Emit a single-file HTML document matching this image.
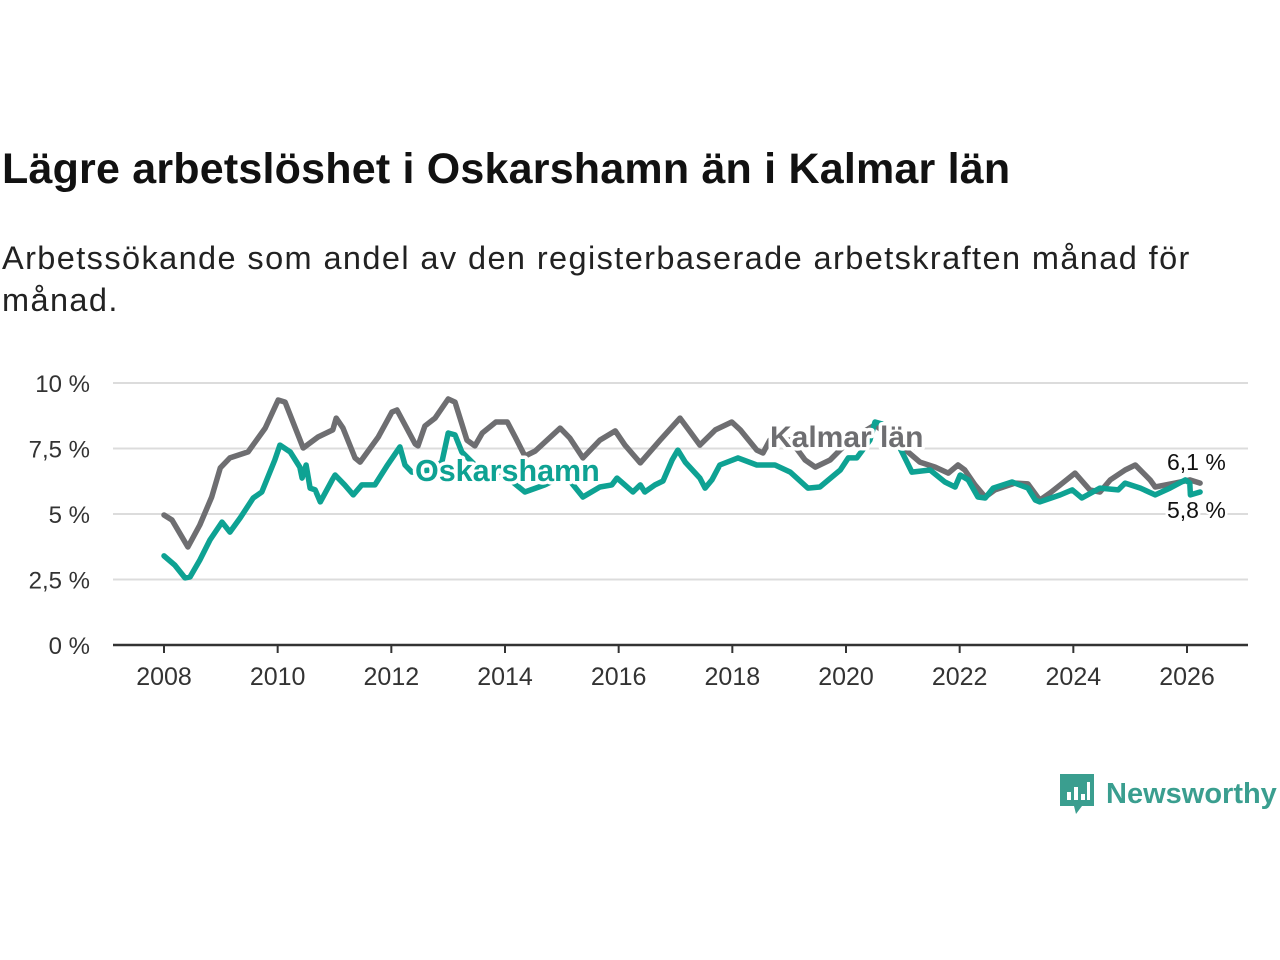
<!DOCTYPE html>
<html><head><meta charset="utf-8">
<style>
body{margin:0;background:#fff;width:1280px;height:960px;overflow:hidden;font-family:"Liberation Sans","DejaVu Sans",sans-serif;color:#111}
#title{position:absolute;left:2px;top:145px;font-size:43px;font-weight:bold;margin:0;letter-spacing:0.2px;white-space:nowrap}
#sub{position:absolute;left:2px;top:237px;font-size:32.5px;line-height:42px;letter-spacing:1.4px;width:1200px;color:#222}
svg{position:absolute;left:0;top:0}
</style></head><body>
<h1 id="title">Lägre arbetslöshet i Oskarshamn än i Kalmar län</h1>
<div id="sub">Arbetssökande som andel av den registerbaserade arbetskraften månad för månad.</div>
<svg id="chart" width="1280" height="960"></svg>
<div style="position:absolute;left:1060px;top:772px;display:flex;align-items:center">
<svg width="36" height="44" style="position:static"><path d="M0 2 H34 V34 H22 L16 42 L14 34 H0 Z" fill="#3a9e8f"/><rect x="7" y="20" width="4" height="8" fill="#fff"/><rect x="14" y="15" width="4" height="13" fill="#fff"/><rect x="21" y="22" width="4" height="6" fill="#fff"/><rect x="27" y="10" width="3" height="18" fill="#fff"/></svg>
<span style="color:#3a9e8f;font-size:29px;font-weight:bold;margin-left:10px">Newsworthy</span></div>
<script>
const yTicks=[0,2.5,5,7.5,10];
const yTickLabels=["0 %","2,5 %","5 %","7,5 %","10 %"];
const xTicks=[2008,2010,2012,2014,2016,2018,2020,2022,2024,2026];
const kalmarDates=[2008.00,2008.14,2008.42,2008.63,2008.84,2008.99,2009.16,2009.48,2009.78,2010.01,2010.13,2010.45,2010.71,2010.97,2011.03,2011.15,2011.36,2011.45,2011.77,2012.01,2012.10,2012.42,2012.47,2012.59,2012.77,2013.00,2013.12,2013.33,2013.47,2013.60,2013.84,2014.04,2014.18,2014.35,2014.53,2014.97,2015.14,2015.37,2015.67,2015.94,2016.11,2016.38,2016.73,2017.08,2017.26,2017.43,2017.70,2017.99,2018.14,2018.43,2018.54,2018.66,2019.02,2019.28,2019.46,2019.72,2020.07,2020.51,2020.95,2021.30,2021.57,2021.80,2021.97,2022.09,2022.27,2022.45,2022.62,2022.97,2023.20,2023.41,2023.59,2023.77,2024.03,2024.29,2024.47,2024.65,2024.91,2025.09,2025.35,2025.44,2025.79,2026.05,2026.23];
const kalmarValues=[4.96,4.77,3.74,4.58,5.65,6.76,7.14,7.37,8.28,9.35,9.27,7.52,7.94,8.21,8.66,8.28,7.14,6.98,7.94,8.89,8.97,7.67,7.60,8.36,8.66,9.39,9.27,7.82,7.60,8.09,8.51,8.51,7.94,7.21,7.40,8.28,7.90,7.14,7.82,8.17,7.63,6.95,7.82,8.66,8.13,7.63,8.21,8.51,8.21,7.44,7.33,7.82,7.82,7.06,6.79,7.06,7.82,8.40,7.63,6.98,6.79,6.56,6.87,6.68,6.11,5.65,5.92,6.18,6.15,5.53,5.80,6.11,6.56,5.92,5.84,6.30,6.68,6.87,6.30,6.03,6.18,6.30,6.18];
const oskDates=[2008.00,2008.19,2008.37,2008.46,2008.63,2008.81,2009.02,2009.16,2009.34,2009.57,2009.72,2009.95,2010.04,2010.22,2010.39,2010.43,2010.50,2010.57,2010.66,2010.75,2010.96,2011.01,2011.18,2011.33,2011.48,2011.71,2011.92,2012.15,2012.24,2012.36,2012.68,2012.89,2013.00,2013.12,2013.24,2013.56,2014.09,2014.35,2014.70,2015.06,2015.37,2015.67,2015.88,2015.97,2016.11,2016.25,2016.38,2016.46,2016.64,2016.78,2016.94,2017.04,2017.17,2017.43,2017.52,2017.64,2017.78,2018.10,2018.43,2018.75,2019.02,2019.33,2019.54,2019.90,2020.04,2020.19,2020.42,2020.51,2020.63,2020.95,2021.16,2021.48,2021.74,2021.92,2022.01,2022.15,2022.32,2022.45,2022.59,2022.92,2023.20,2023.33,2023.41,2023.77,2023.98,2024.15,2024.47,2024.79,2024.91,2025.18,2025.44,2025.70,2025.97,2026.05,2026.06,2026.23];
const oskValues=[3.40,3.05,2.56,2.60,3.24,4.01,4.69,4.31,4.85,5.61,5.84,7.06,7.63,7.37,6.79,6.37,6.87,5.99,5.92,5.46,6.30,6.49,6.11,5.73,6.11,6.11,6.83,7.56,6.87,6.60,6.68,6.98,8.09,8.02,7.37,6.68,6.30,5.84,6.11,6.49,5.65,6.03,6.11,6.37,6.11,5.84,6.11,5.84,6.11,6.26,7.06,7.44,6.98,6.37,5.99,6.30,6.87,7.14,6.87,6.87,6.60,5.99,6.03,6.68,7.14,7.14,7.82,8.51,8.44,7.52,6.60,6.68,6.22,6.03,6.49,6.30,5.65,5.61,5.99,6.22,5.99,5.53,5.46,5.73,5.92,5.61,5.99,5.92,6.18,5.99,5.73,5.99,6.30,6.18,5.73,5.84];
const NS="http://www.w3.org/2000/svg";
const svg=document.getElementById('chart');
const X0=113,X1=1248;
const xs=d=>164+(d-2008)*(1187-164)/18;
const ys=v=>645-v*26.2;
function mk(t,a,txt){const e=document.createElementNS(NS,t);for(const k in a)e.setAttribute(k,a[k]);if(txt!=null)e.textContent=txt;svg.appendChild(e);return e;}
yTicks.forEach((v,i)=>{
  if(v>0){const g=mk('line',{x1:X0,x2:X1,y1:ys(v),y2:ys(v),stroke:'#dcdcdc','stroke-width':2});
  
  }
  const t=mk('text',{x:90,y:ys(v)+9,'text-anchor':'end','font-size':24,fill:'#333'},yTickLabels[i]);
  
  
});
const ax=mk('line',{x1:X0,x2:X1,y1:645,y2:645,stroke:'#333','stroke-width':2.5});


xTicks.forEach(y=>{
  const tk=mk('line',{x1:xs(y),x2:xs(y),y1:645,y2:653,stroke:'#333','stroke-width':2});
  
  
  const t=mk('text',{x:xs(y),y:685,'text-anchor':'middle','font-size':25,fill:'#333'},String(y));
  
  
});
function line(ds,vs,col,name){
  const p=mk('polyline',{points:ds.map((d,i)=>xs(d).toFixed(1)+','+ys(vs[i]).toFixed(1)).join(' '),fill:'none',stroke:col,'stroke-width':5.5,'stroke-linejoin':'round','stroke-linecap':'round'});
  
  
}
line(kalmarDates,kalmarValues,'#6e6e71','kalmar-lan-line');
line(oskDates,oskValues,'#0ea293','oskarshamn-line');
function lab(x,y,txt,col,name,size,bold){
  const t=mk('text',{x:x,y:y,'font-size':size,'font-weight':bold?'bold':'normal',fill:col,stroke:'#fff','stroke-width':bold?7:5,'paint-order':'stroke','stroke-linejoin':'round'},txt);
  
  
}
lab(770,447,'Kalmar län','#6e6e71','kalmar-lan-label',30,true);
lab(415,481,'Oskarshamn','#0ea293','oskarshamn-label',30.5,true);
lab(1167,470,'6,1 %','#111','kalmar-end-value',23,false);
lab(1167,518,'5,8 %','#111','oskarshamn-end-value',23,false);
</script>
</body></html>
